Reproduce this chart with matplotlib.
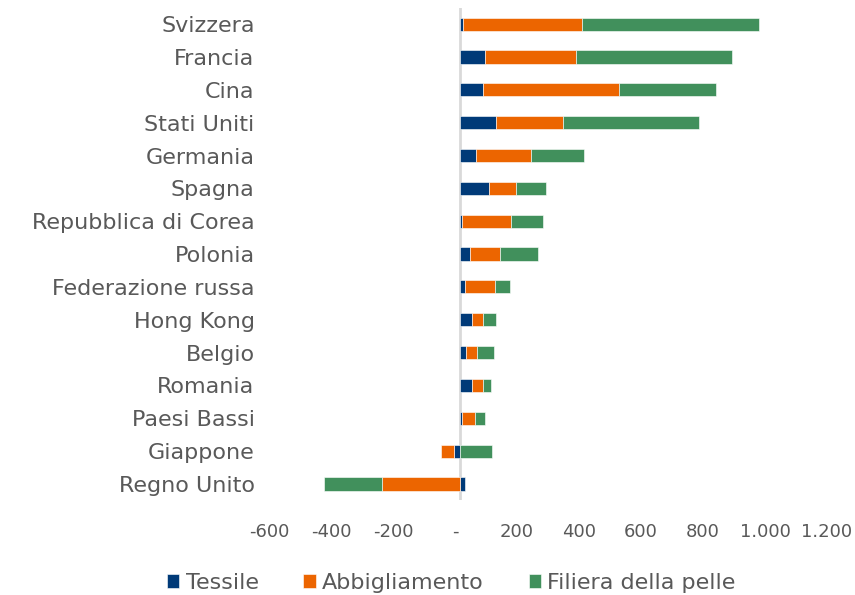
import matplotlib.pyplot as plt
import matplotlib.transforms as mtransforms
import numpy as np
from matplotlib.ticker import FixedLocator, FuncFormatter

paesi = ['Svizzera', 'Francia', 'Cina', 'Stati Uniti', 'Germania', 'Spagna',
         'Repubblica di Corea', 'Polonia', 'Federazione russa', 'Hong Kong',
         'Belgio', 'Romania', 'Paesi Bassi', 'Giappone', 'Regno Unito']
tessile = [10, 82, 75, 115, 53, 92, 7, 33, 15, 39, 20, 39, 6, -20, 16]
abbigliamento = [385, 291, 439, 216, 176, 90, 159, 95, 97, 34, 35, 34, 43, -41, -251]
pelle = [570, 506, 312, 439, 172, 95, 101, 122, 50, 42, 55, 27, 33, 103, -187]

serie = [('Tessile', tessile, '#003A78'),
         ('Abbigliamento', abbigliamento, '#EC6500'),
         ('Filiera della pelle', pelle, '#41905C')]

grigio = '#595959'
plt.rcParams['font.family'] = 'DejaVu Sans'

fig = plt.figure(figsize=(8.55, 5.95), dpi=100)
ax = fig.add_axes([0.3205, 0.159, 0.6526, 0.828])

y = np.arange(len(paesi))
pos = np.zeros(len(paesi))
neg = np.zeros(len(paesi))
for nome, valori, colore in serie:
    v = np.array(valori, dtype=float)
    left = np.where(v >= 0, pos, neg)
    ax.barh(y, v, left=left, height=0.4, color=colore, label=nome,
            edgecolor='white', linewidth=0.4)
    pos = pos + np.where(v >= 0, v, 0)
    neg = neg + np.where(v < 0, v, 0)

ax.axvline(0, color='#D9D9D9', linewidth=2, zorder=0)

ax.set_xlim(-600, 1200)
ax.set_ylim(len(paesi) - 0.5, -0.5)
ax.set_yticks(y)
ax.set_yticklabels(paesi)

def fmt(v, p):
    if v == 0:
        return '-'
    return f'{int(v):,}'.replace(',', '.')

ax.xaxis.set_major_locator(FixedLocator(np.arange(-600, 1201, 200)))
ax.xaxis.set_major_formatter(FuncFormatter(fmt))
ax.tick_params(axis='x', length=0, pad=16, labelsize=13, labelcolor=grigio)
ax.tick_params(axis='y', length=0, pad=14, labelsize=16, labelcolor=grigio)
for s in ax.spines.values():
    s.set_visible(False)

# sposta leggermente a sinistra le etichette dell'asse x (come in Excel)
shift = mtransforms.ScaledTranslation(-5 / 100, 0, fig.dpi_scale_trans)
for lab in ax.get_xticklabels():
    lab.set_transform(lab.get_transform() + shift)

fig.legend(loc='lower center', bbox_to_anchor=(0.528, -0.03), ncol=3,
           frameon=False, fontsize=16, labelcolor=grigio,
           handlelength=0.55, handleheight=0.55, handletextpad=0.3,
           columnspacing=2.0)

fig.savefig('out.png', dpi=100)
